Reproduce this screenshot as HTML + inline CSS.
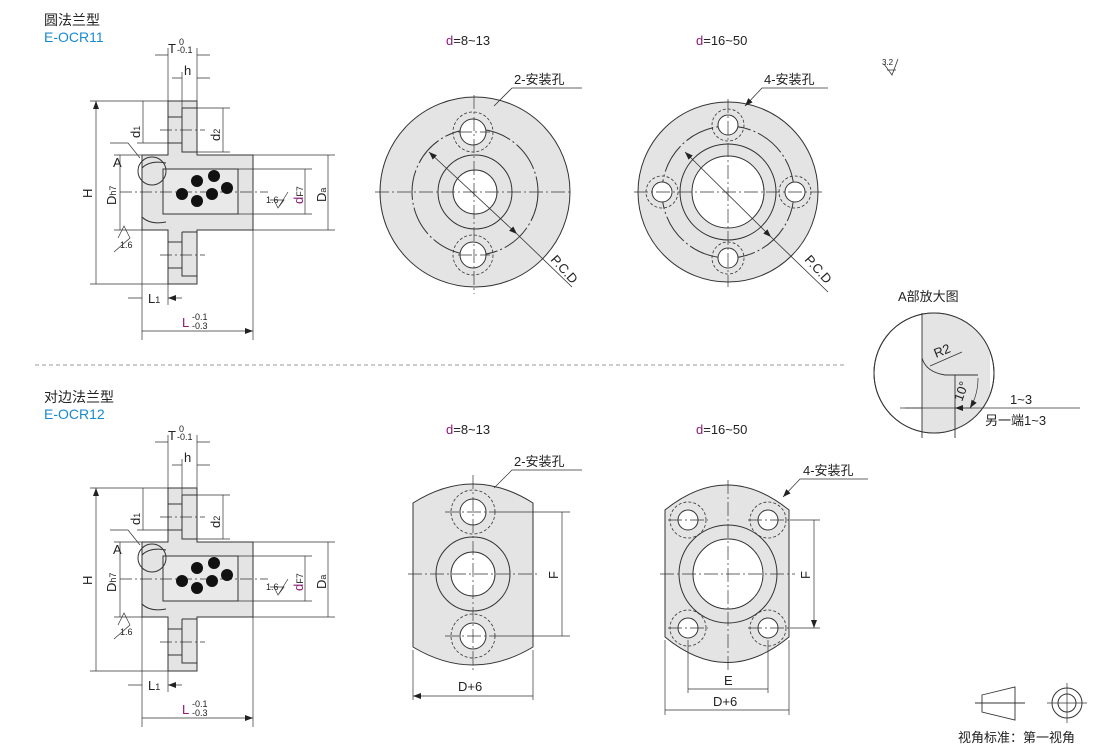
<!DOCTYPE html>
<html><head><meta charset="utf-8"><style>
body{margin:0;background:#fff}
svg{display:block;font-family:"Liberation Sans","Noto Sans CJK SC",sans-serif}
</style></head><body>
<svg width="1110" height="749" viewBox="0 0 1110 749" xmlns="http://www.w3.org/2000/svg">
<defs>
<marker id="a" markerWidth="8" markerHeight="6" refX="8" refY="3" orient="auto-start-reverse" markerUnits="userSpaceOnUse"><path d="M0,0L8,3L0,6z" fill="#222"/></marker>
<g id="sec" stroke="#333" stroke-width="1" fill="none">
<path d="M168,101H197V155H253V230H197V284H168V230H142V155H168Z" fill="#e4e4e4"/>
<path d="M163,169H238V214H163Z" fill="#e9e9e9"/>
<path d="M238,169V214M182,108H197M182,108V152H197M182,232V276H197M182,232H197"/>
<path d="M168,117H182M168,143H182M168,242H182M168,268H182"/>
<path d="M142,168Q150,160 166,163M142,217Q150,225 166,222"/>
<path d="M120,192H268M160,130H205M160,255H205" stroke-dasharray="12 3 2 3" stroke-width=".7"/>
<circle cx="152" cy="171" r="14" fill="none"/>
<g fill="#111" stroke="none"><circle cx="182" cy="194" r="6"/><circle cx="197" cy="181" r="6"/><circle cx="214" cy="176" r="6"/><circle cx="227" cy="188" r="6"/><circle cx="212" cy="194" r="6"/><circle cx="197" cy="201" r="6"/></g>
<g stroke-width=".7">
<path d="M90,101H168M90,284H168M114,155H142M114,230H142M137,101H168M137,143H168M197,108H230M197,152H230M253,155H335M253,230H335M238,169H312M238,214H312"/>
<path d="M168,48V101M197,48V101M182,72V108M142,230V340M253,230V340M168,284V305"/>
<path d="M96,101V284M120,155V230M143,101V143M223,108V152M328,155V230M305,169V214M142,331H253" marker-start="url(#a)" marker-end="url(#a)"/>
<path d="M155,55H168M210,55H197M172,78H182M210,78H197M128,298H142M182,298H168" marker-end="url(#a)"/>
<path d="M110,143H128L140,158" />
<path d="M118,238L124,226L130,238L114,252M270,200H284L278,208L274,200M278,208L288,192"/>
</g>
</g>
</defs>
<g fill="#222" font-size="14">
<text x="44" y="25">圆法兰型</text><text x="44" y="42" fill="#1a8ad0">E-OCR11</text>
<text x="44" y="402">对边法兰型</text><text x="44" y="419" fill="#1a8ad0">E-OCR12</text>
</g>
<path d="M35,365H845" stroke="#999" stroke-dasharray="4 3"/>
<use href="#sec"/>
<use href="#sec" y="387"/>
<g font-size="13" fill="#222">
<g id="lab"><text x="168" y="53">T</text><text x="179" y="45" font-size="9">0</text><text x="177" y="53" font-size="9">-0.1</text>
<text x="184" y="75">h</text><text x="113" y="167">A</text>
<text x="92" y="198" transform="rotate(-90 92 198)">H</text>
<text x="116" y="205" transform="rotate(-90 116 205)">D<tspan font-size="9">h7</tspan></text>
<text x="140" y="138" transform="rotate(-90 140 138)">d<tspan font-size="9">1</tspan></text>
<text x="220" y="141" transform="rotate(-90 220 141)">d<tspan font-size="9">2</tspan></text>
<text x="303" y="204" transform="rotate(-90 303 204)"><tspan fill="#8b1a7a">d</tspan><tspan font-size="9">F7</tspan></text>
<text x="326" y="202" transform="rotate(-90 326 202)">D<tspan font-size="9">a</tspan></text>
<text x="266" y="203" font-size="9">1.6</text><text x="120" y="248" font-size="9">1.6</text>
<text x="148" y="303">L<tspan font-size="9">1</tspan></text>
<text x="182" y="327" fill="#8b1a7a">L</text><text x="192" y="320" font-size="9">-0.1</text><text x="192" y="329" font-size="9">-0.3</text></g>
<use href="#lab" y="387"/>
</g>
<g stroke="#333" stroke-width="1" fill="none">
<circle cx="475" cy="192" r="95" fill="#e4e4e4"/>
<circle cx="475" cy="192" r="63" stroke-dasharray="30 3 2 3"/>
<circle cx="475" cy="192" r="37"/>
<circle cx="475" cy="192" r="22" fill="#fff"/>
<circle cx="473" cy="132" r="13" fill="#fff"/><circle cx="473" cy="255" r="13" fill="#fff"/>
<g stroke-dasharray="3 2" stroke-width=".8"><circle cx="473" cy="132" r="20"/><circle cx="473" cy="255" r="20"/></g>
<path d="M375,192H572M474,95V294M458,132H490M458,255H490" stroke-width=".7" stroke-dasharray="14 3 2 3"/>
<circle cx="728" cy="192" r="90" fill="#e4e4e4"/>
<circle cx="728" cy="192" r="66" stroke-dasharray="30 3 2 3"/>
<circle cx="728" cy="192" r="48"/>
<circle cx="728" cy="192" r="36" fill="#fff"/>
<g fill="#fff"><circle cx="728" cy="125" r="10"/><circle cx="728" cy="258" r="10"/><circle cx="662" cy="192" r="10"/><circle cx="795" cy="192" r="10"/></g>
<g stroke-dasharray="3 2" stroke-width=".8"><circle cx="728" cy="125" r="16"/><circle cx="728" cy="258" r="16"/><circle cx="662" cy="192" r="16"/><circle cx="795" cy="192" r="16"/></g>
<path d="M634,192H822M728,99V287" stroke-width=".7" stroke-dasharray="14 3 2 3"/>
<g stroke-width=".8"><path d="M429,152L517,234" marker-start="url(#a)" marker-end="url(#a)"/><path d="M517,234L572,287"/>
<path d="M685,152L771,237" marker-start="url(#a)" marker-end="url(#a)"/><path d="M771,237L828,292"/>
<path d="M582,88H512L494,106M828,88H762L745,106" marker-end="url(#a)"/></g>
<path d="M413,503Q473,465 533,503V647Q473,683 413,647Z" fill="#e4e4e4"/>
<circle cx="473" cy="574" r="37"/><circle cx="473" cy="574" r="22" fill="#fff"/>
<circle cx="473" cy="512" r="13" fill="#fff"/><circle cx="473" cy="636" r="13" fill="#fff"/>
<g stroke-dasharray="3 2" stroke-width=".8"><circle cx="473" cy="512" r="22"/><circle cx="473" cy="636" r="22"/></g>
<path d="M408,574H538M473,475V672M445,512H500M445,636H500" stroke-width=".7" stroke-dasharray="14 3 2 3"/>
<path d="M665,510Q727,460 789,510V637Q727,688 665,637Z" fill="#e4e4e4"/>
<circle cx="728" cy="574" r="49"/><circle cx="728" cy="574" r="35" fill="#fff"/>
<g fill="#fff"><circle cx="688" cy="520" r="10"/><circle cx="768" cy="520" r="10"/><circle cx="688" cy="628" r="10"/><circle cx="768" cy="628" r="10"/></g>
<g stroke-dasharray="3 2" stroke-width=".8"><circle cx="688" cy="520" r="18"/><circle cx="768" cy="520" r="18"/><circle cx="688" cy="628" r="18"/><circle cx="768" cy="628" r="18"/></g>
<path d="M660,574H795M728,480V670M668,520H708M748,520H790M668,628H708M748,628H790" stroke-width=".7" stroke-dasharray="14 3 2 3"/>
<g stroke-width=".7">
<path d="M413,650V700M533,650V700M500,512H570M500,636H570M665,640V715M789,640V715M688,640V693M768,640V693M790,520H820M790,628H820"/>
<path d="M413,696H533M562,512V636M665,710H789M688,689H768M814,520V628" marker-start="url(#a)" marker-end="url(#a)"/>
<path d="M582,470H512L494,488M868,479H800L783,497" marker-end="url(#a)"/>
</g>
<clipPath id="cc"><circle cx="934" cy="373" r="60"/></clipPath>
<circle cx="934" cy="373" r="60" fill="#fff"/>
<path d="M922,300V440H990V300Z" fill="#e4e4e4" clip-path="url(#cc)" stroke="none"/>
<path d="M922,313V438M955,375V438M922,358Q926,372 945,375L978,375" stroke-width=".9"/>
<circle cx="934" cy="373" r="60"/>
<g stroke-width=".7"><path d="M930,366L962,352M978,378Q978,395 970,408" marker-end="url(#a)"/><path d="M900,408H1080"/>
<path d="M905,408H922M972,408H955" marker-end="url(#a)"/></g>
<path d="M884,64L892,75L898,59M887,70H896" stroke-width=".8"/>
<path d="M982,695L1015,687V720L982,712Z M975,703H1025" stroke-width=".9"/>
<circle cx="1067" cy="703" r="15"/><circle cx="1067" cy="703" r="9"/><path d="M1047,703H1087M1067,683V723" stroke-width=".7"/>
</g>
<g font-size="13" fill="#222">
<text x="446" y="45"><tspan fill="#8b1a7a">d</tspan>=8~13</text>
<text x="696" y="45"><tspan fill="#8b1a7a">d</tspan>=16~50</text>
<text x="446" y="434"><tspan fill="#8b1a7a">d</tspan>=8~13</text>
<text x="696" y="434"><tspan fill="#8b1a7a">d</tspan>=16~50</text>
<text x="514" y="84">2-安装孔</text><text x="764" y="84">4-安装孔</text>
<text x="514" y="466">2-安装孔</text><text x="803" y="475">4-安装孔</text>
<text x="550" y="260" transform="rotate(48 550 260)">P.C.D</text>
<text x="804" y="260" transform="rotate(48 804 260)">P.C.D</text>
<text x="882" y="65" font-size="8">3.2</text>
<text x="898" y="301">A部放大图</text>
<text x="936" y="358" transform="rotate(-22 936 358)">R2</text>
<text x="962" y="402" transform="rotate(-70 962 402)">10°</text>
<text x="1010" y="404">1~3</text><text x="985" y="425">另一端1~3</text>
<text x="458" y="691">D+6</text><text x="713" y="706">D+6</text><text x="724" y="685">E</text>
<text x="558" y="579" transform="rotate(-90 558 579)">F</text>
<text x="810" y="579" transform="rotate(-90 810 579)">F</text>
<text x="958" y="742">视角标准：第一视角</text>
</g>
</svg>
</body></html>
